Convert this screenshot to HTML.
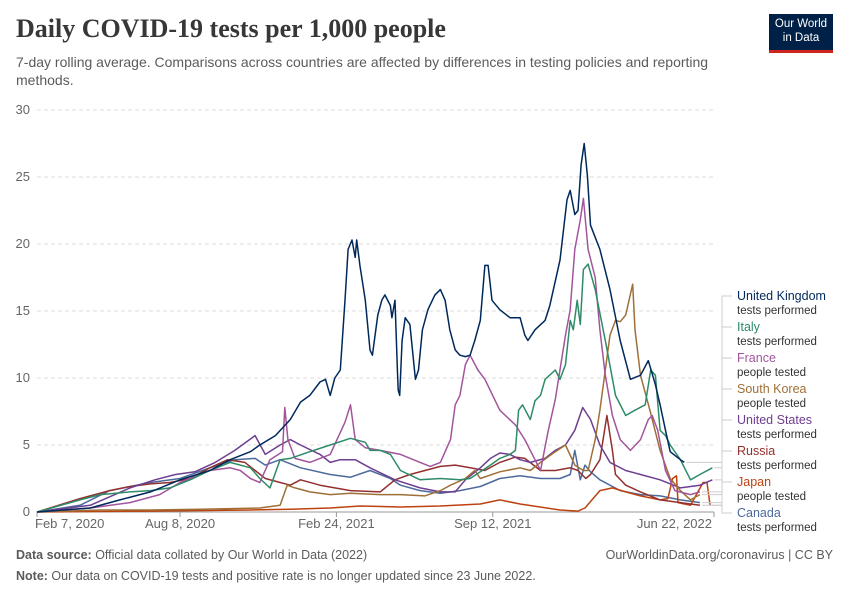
<!DOCTYPE html>
<html><head><meta charset="utf-8">
<style>
body{margin:0;background:#fff;font-family:"Liberation Sans",sans-serif;}
#wrap{position:relative;width:850px;height:600px;overflow:hidden;}
.t{position:absolute;white-space:nowrap;}
</style></head>
<body>
<div id="wrap">
<div class="t" style="left:16px;top:14px;font-family:'Liberation Serif',serif;font-size:26px;font-weight:bold;color:#373737;">Daily COVID-19 tests per 1,000 people</div>
<div class="t" style="left:16px;top:53px;font-size:14px;color:#5b5b5b;line-height:18px;white-space:normal;width:740px;">7-day rolling average. Comparisons across countries are affected by differences in testing policies and reporting methods.</div>
<div style="position:absolute;left:769px;top:14px;width:64px;height:36px;background:#002147;border-bottom:3px solid #ce261e;color:#fff;font-size:11.5px;line-height:14px;text-align:center;padding-top:3px;box-sizing:content-box;height:33px;">Our World<br>in Data</div>
<svg id="chart" width="850" height="600" style="position:absolute;left:0;top:0;"></svg>
<div class="t" style="left:16px;top:548px;font-size:12.5px;color:#5b5b5b;"><b>Data source:</b> Official data collated by Our World in Data (2022)</div>
<div class="t" style="right:17px;top:548px;font-size:12.5px;color:#5b5b5b;">OurWorldinData.org/coronavirus | CC BY</div>
<div class="t" style="left:16px;top:569px;font-size:12.5px;color:#5b5b5b;"><b>Note:</b> Our data on COVID-19 tests and positive rate is no longer updated since 23 June 2022.</div>
</div>
<script>
const yTicks=[0,5,10,15,20,25,30];
const xTickDays=[0,183,383,583,866];
const xTickLabels=["Feb 7, 2020","Aug 8, 2020","Feb 24, 2021","Sep 12, 2021","Jun 22, 2022"];
const ukDays=[0,68,106,145,183,221,247,273,285,305,324,337,349,362,369,375,381,388,394,398,403,407,409,413,420,426,429,436,441,445,452,454,458,461,462,464,467,471,477,484,488,493,500,509,516,522,528,535,541,548,554,560,567,573,577,582,592,605,618,624,628,637,650,656,669,678,682,688,692,696,700,704,708,720,733,746,759,772,782,791,797,804,810,823,828];
const ukVals=[0,0.3,0.9,1.5,2.4,3.1,3.9,4.5,5.0,5.7,6.9,8.2,8.7,9.7,9.9,8.7,10.0,10.6,15.8,19.6,20.3,19.0,20.3,18.4,15.8,12.1,11.7,14.7,15.8,16.2,15.4,14.5,15.8,10.6,9.1,8.7,12.8,14.5,14.0,9.9,10.6,13.6,15.1,16.2,16.6,15.8,13.6,12.1,11.7,11.6,11.7,12.8,14.3,18.4,18.4,15.8,15.1,14.5,14.5,13.2,12.8,13.6,14.3,15.4,18.8,23.3,24.0,22.2,22.5,25.9,27.5,25.1,21.4,19.6,16.6,12.8,9.9,10.2,11.3,9.5,8.0,6.1,4.5,3.9,3.7];
const itDays=[0,55,81,119,145,170,196,221,247,273,285,298,311,324,349,375,401,420,426,439,452,465,490,516,541,554,580,592,605,612,616,621,631,637,644,650,663,669,676,682,686,691,695,699,705,714,727,740,753,765,778,785,791,797,804,810,823,836,848,864];
const itVals=[0,0.9,1.3,1.5,1.6,1.8,2.4,3.1,3.7,3.3,2.5,1.8,3.9,4.0,4.5,5.0,5.5,5.2,4.6,4.6,4.3,3.1,2.4,2.5,2.4,2.5,3.5,4.0,4.3,4.6,7.6,8.0,6.9,8.3,8.7,9.9,10.6,9.9,11.0,14.3,13.6,15.8,14.0,18.1,18.5,16.6,12.8,8.7,7.2,7.6,8.0,10.6,10.2,6.1,5.7,5.0,3.9,2.4,2.8,3.3];
const frDays=[0,68,119,157,183,221,247,260,273,285,298,314,317,321,330,349,375,394,401,407,420,439,465,490,503,516,522,529,535,541,548,554,564,573,592,612,624,637,644,654,663,676,682,688,695,699,705,714,720,727,736,746,759,772,782,787,794,804,816,836,848];
const frVals=[0,0.3,0.7,1.3,2.2,3.1,3.3,3.1,2.5,2.2,3.9,4.5,7.8,5.4,4.0,3.7,4.3,6.7,8.0,5.4,4.8,4.6,4.3,3.7,3.4,3.7,4.5,5.4,8.0,8.7,11.0,11.7,10.6,9.9,7.6,6.5,5.4,3.9,3.1,6.1,8.4,13.2,15.1,19.6,21.8,23.4,19.6,17.5,13.6,10.2,7.2,5.4,4.6,5.4,6.9,7.2,6.1,3.1,1.6,1.3,1.5];
const krDays=[0,81,145,209,285,311,320,330,349,375,401,439,465,496,516,529,548,560,567,592,618,631,644,663,676,688,699,705,714,720,733,740,746,753,762,765,772,784,797,810,823,836,848];
const krVals=[0,0.15,0.15,0.2,0.3,0.5,2.0,1.8,1.5,1.3,1.4,1.3,1.3,1.2,1.6,2.0,2.5,3.1,2.5,3.0,3.3,3.1,3.7,4.5,5.0,3.5,3.1,3.1,5.4,7.6,13.2,14.3,14.2,14.7,17.0,13.6,10.2,7.6,4.6,2.5,1.6,0.9,1.3];
const usDays=[0,68,119,151,177,202,228,253,279,292,311,324,337,362,375,388,407,426,458,490,516,535,548,567,580,592,605,618,631,650,663,676,688,698,708,720,733,753,772,797,823,848,864];
const usVals=[0,0.5,1.8,2.4,2.8,3.0,3.7,4.6,5.7,4.3,5.0,5.4,5.0,4.3,3.7,3.9,3.9,3.3,2.4,1.8,1.5,1.5,2.4,3.3,4.0,4.4,4.3,3.9,3.7,4.0,4.6,5.0,6.1,7.8,6.9,5.0,3.7,3.1,2.8,2.4,1.8,2.0,2.4];
const ruDays=[0,55,93,119,145,170,196,221,244,266,279,292,311,324,337,362,381,401,439,458,477,516,535,554,573,592,612,624,644,663,682,692,702,708,720,729,736,740,753,772,797,823,848];
const ruVals=[0,1.0,1.6,1.9,2.1,2.2,2.5,3.3,3.9,3.7,3.1,2.5,2.2,2.0,2.4,2.0,1.8,1.6,1.5,2.4,2.8,3.4,3.5,3.3,3.1,3.7,4.1,4.0,3.1,3.1,3.3,3.1,2.5,2.8,3.9,7.2,4.6,2.8,2.0,1.5,0.9,0.7,0.5];
const jpDays=[0,145,273,324,375,413,465,516,567,592,618,669,692,701,720,736,753,772,797,807,813,818,820,836,852,857,861];
const jpVals=[0,0.07,0.15,0.2,0.3,0.45,0.37,0.45,0.6,0.9,0.6,0.15,0.07,0.3,1.6,1.8,1.5,1.2,0.9,1.0,2.5,2.7,0.7,0.5,2.2,2.2,0.5];
const caDays=[0,55,93,145,183,221,253,279,292,311,337,375,401,426,452,465,490,516,541,567,592,618,644,669,682,688,695,701,708,720,746,772,797,823,848];
const caVals=[0,0.5,1.6,2.2,2.5,3.3,3.9,4.0,3.5,3.9,3.3,2.8,2.6,3.1,2.5,2.0,1.6,1.4,1.6,1.9,2.5,2.7,2.5,2.5,2.8,4.6,2.4,3.5,3.0,2.4,1.6,1.3,1.2,0.9,0.7];
const seriesNames=["United Kingdom","Italy","France","South Korea","United States","Russia","Japan","Canada"];
const seriesSubs=["tests performed","tests performed","people tested","people tested","tests performed","tests performed","people tested","tests performed"];
const seriesColors=["#00295B","#2E8B67","#A2559C","#9E7038","#6D3E91","#93302F","#BE4210","#4C6A9C"];
const seriesDays=[ukDays,itDays,frDays,krDays,usDays,ruDays,jpDays,caDays];
const seriesVals=[ukVals,itVals,frVals,krVals,usVals,ruVals,jpVals,caVals];

const NS="http://www.w3.org/2000/svg";
const svg=document.getElementById('chart');
const X0=37,X1=714,Y0=512,Y1=110,DMAX=866,VMAX=30;
const xs=d=>X0+(X1-X0)*d/DMAX;
const ys=v=>Y0-(Y0-Y1)*v/VMAX;
function mk(tag,attrs){const e=document.createElementNS(NS,tag);for(const k in attrs)e.setAttribute(k,attrs[k]);svg.appendChild(e);return e;}

yTicks.forEach(t=>{
  if(t>0){const g=mk('line',{x1:X0,x2:X1,y1:ys(t),y2:ys(t),stroke:'#dddddd','stroke-dasharray':'4,3'});
  
  }
  const tx=mk('text',{x:30,y:ys(t)+4,'text-anchor':'end','font-size':13,fill:'#666','font-family':'Liberation Sans, sans-serif'});
  tx.textContent=t;
  
  
});
const ax=mk('line',{x1:X0,x2:X1,y1:Y0,y2:Y0,stroke:'#999'});


xTickDays.forEach((d,i)=>{
  const tk=mk('line',{x1:xs(d),x2:xs(d),y1:Y0,y2:Y0+5,stroke:'#999'});
  
  
  let anchor=i===0?'start':(i===xTickDays.length-1?'end':'middle');
  const tx=mk('text',{x:i===0?xs(d)-2:(i===xTickDays.length-1?xs(d)-2:xs(d)),y:528,'text-anchor':anchor,'font-size':13,fill:'#666','font-family':'Liberation Sans, sans-serif'});
  tx.textContent=xTickLabels[i];
  
  
});
for(let s=seriesNames.length-1;s>=0;s--){
  const pts=seriesDays[s].map((d,i)=>xs(d).toFixed(1)+','+ys(seriesVals[s][i]).toFixed(1)).join(' ');
  const pl=mk('polyline',{points:pts,fill:'none',stroke:seriesColors[s],'stroke-width':1.5,'stroke-linejoin':'round'});
  
  
}
seriesNames.forEach((n,s)=>{
  const ly=300+s*31;
  const dd=seriesDays[s],vv=seriesVals[s];
  const ey=ys(vv[vv.length-1]), ex=xs(dd[dd.length-1]);
  const c=mk('polyline',{points:`${ex+2},${ey} 722,${ey} 722,${ly-4} 732,${ly-4}`,fill:'none',stroke:'#cccccc','stroke-width':1});
  
  
  const t=mk('text',{x:737,y:ly,'font-size':12.5,fill:seriesColors[s],'font-family':'Liberation Sans, sans-serif'});
  t.textContent=n;
  
  
  const t2=mk('text',{x:737,y:ly+14,'font-size':11.5,fill:'#333','font-family':'Liberation Sans, sans-serif'});
  t2.textContent=seriesSubs[s];
  
  
});
</script>
</body></html>
